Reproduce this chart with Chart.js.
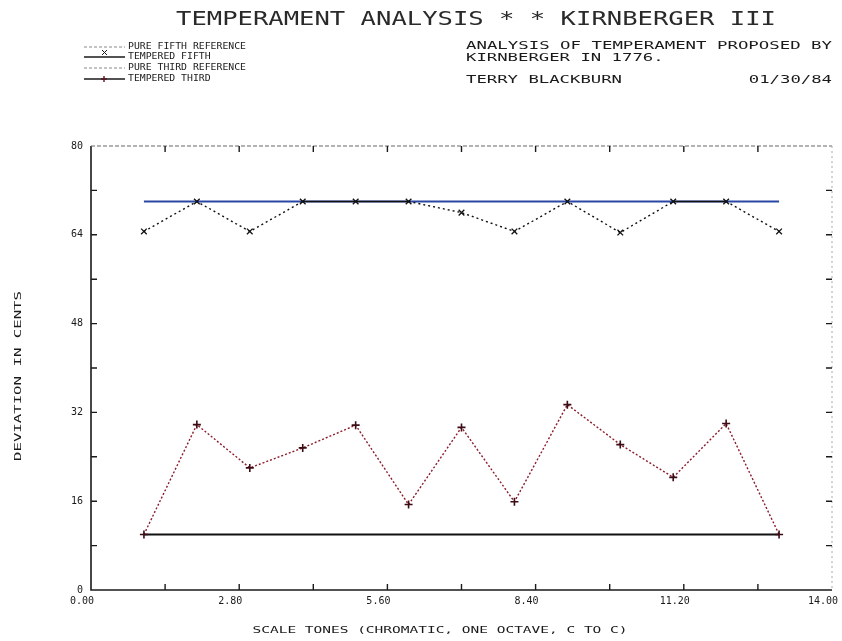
<!DOCTYPE html>
<html>
<head>
<meta charset="utf-8">
<script src="https://cdn.jsdelivr.net/npm/chart.js@4.4.1/dist/chart.umd.min.js"></script>
<style>
  html, body { margin: 0; padding: 0; background: #ffffff; }
  #wrap { position: relative; width: 842px; height: 641px; }
</style>
</head>
<body>
<div id="wrap"><canvas id="c" width="842" height="641"></canvas></div>
<script>
// ---- data ----
const tones = [1, 2, 3, 4, 5, 6, 7, 8, 9, 10, 11, 12, 13];
const pureFifth = [70, 70, 70, 70, 70, 70, 70, 70, 70, 70, 70, 70, 70];
const temperedFifth = [64.6, 70, 64.6, 70, 70, 70, 68, 64.6, 70, 64.4, 70, 70, 64.6];
const pureThird = [10, 10, 10, 10, 10, 10, 10, 10, 10, 10, 10, 10, 10];
const temperedThird = [10, 29.8, 22, 25.6, 29.7, 15.4, 29.3, 15.9, 33.4, 26.2, 20.3, 30, 10];
const xTickLabels = ['0.00', '2.80', '5.60', '8.40', '11.20', '14.00'];
const yTickLabels = ['0', '16', '32', '48', '64', '80'];
const seriesNames = ['PURE FIFTH REFERENCE', 'TEMPERED FIFTH', 'PURE THIRD REFERENCE', 'TEMPERED THIRD'];
const titleText = 'TEMPERAMENT ANALYSIS * * KIRNBERGER III';
const noteLines = ['ANALYSIS OF TEMPERAMENT PROPOSED BY', 'KIRNBERGER IN 1776.'];
const author = 'TERRY BLACKBURN';
const dateText = '01/30/84';
const xTitle = 'SCALE TONES (CHROMATIC, ONE OCTAVE, C TO C)';
const yTitle = 'DEVIATION IN CENTS';

const FONT = '"DejaVu Sans Mono", monospace';
const INK = '#1a1a1a';

function pts(ys) { return tones.map((x, i) => ({ x: x, y: ys[i] })); }

function drawText(ctx, str, x, y, size, width, align, color) {
  ctx.save();
  ctx.font = size + 'px ' + FONT;
  ctx.fillStyle = color || INK;
  ctx.textBaseline = 'middle';
  const w = ctx.measureText(str).width;
  const sx = width ? width / w : 1;
  const realW = w * sx;
  let left = x;
  if (align === 'center') left = x - realW / 2;
  else if (align === 'right') left = x - realW;
  ctx.translate(left, y);
  ctx.scale(sx, 1);
  ctx.textAlign = 'left';
  ctx.fillText(str, 0, 0);
  ctx.restore();
}

const decor = {
  id: 'decor',
  afterDraw(chart) {
    const ctx = chart.ctx;
    const xs = chart.scales.x, ys = chart.scales.y;
    const L = xs.left, R = xs.right, T = ys.top, B = ys.bottom;
    ctx.save();
    // frame
    ctx.strokeStyle = INK;
    ctx.lineWidth = 1.6;
    ctx.beginPath();
    ctx.moveTo(L, T); ctx.lineTo(L, B); ctx.lineTo(R, B);
    ctx.stroke();
    ctx.lineWidth = 1;
    ctx.strokeStyle = '#666';
    ctx.setLineDash([4, 2]);
    ctx.beginPath();
    ctx.moveTo(L, T); ctx.lineTo(R, T);
    ctx.stroke();
    ctx.strokeStyle = '#aaa';
    ctx.setLineDash([2, 3]);
    ctx.beginPath();
    ctx.moveTo(R, T); ctx.lineTo(R, B);
    ctx.stroke();
    ctx.setLineDash([]);
    // inward ticks
    ctx.strokeStyle = INK;
    ctx.lineWidth = 1.4;
    ctx.beginPath();
    for (let v = 1.4; v < 14 - 0.01; v += 1.4) {
      const px = xs.getPixelForValue(v);
      ctx.moveTo(px, B); ctx.lineTo(px, B - 6);
      ctx.moveTo(px, T); ctx.lineTo(px, T + 6);
    }
    for (let v = 8; v < 80 - 0.01; v += 8) {
      const py = ys.getPixelForValue(v);
      ctx.moveTo(L, py); ctx.lineTo(L + 6, py);
      ctx.moveTo(R, py); ctx.lineTo(R - 6, py);
    }
    ctx.stroke();

    // title
    drawText(ctx, titleText, 476, 20, 19, 600, 'center', '#2a2a2a');
    // legend
    const rows = [47, 57, 68, 79];
    for (let i = 0; i < 4; i++) {
      const y = rows[i];
      ctx.beginPath();
      if (i === 0 || i === 2) {
        ctx.strokeStyle = '#888';
        ctx.lineWidth = 1;
        ctx.setLineDash([3, 2]);
      } else {
        ctx.strokeStyle = INK;
        ctx.lineWidth = 1.3;
        ctx.setLineDash([]);
      }
      ctx.moveTo(84, y); ctx.lineTo(125, y);
      ctx.stroke();
      ctx.setLineDash([]);
      if (i === 1) {
        ctx.lineWidth = 1;
        ctx.beginPath();
        ctx.moveTo(102, y - 7); ctx.lineTo(107, y - 2);
        ctx.moveTo(107, y - 7); ctx.lineTo(102, y - 2);
        ctx.stroke();
      }
      if (i === 3) {
        ctx.strokeStyle = '#5a1420';
        ctx.lineWidth = 1.4;
        ctx.beginPath();
        ctx.moveTo(104, y - 3); ctx.lineTo(104, y + 3);
        ctx.moveTo(101, y); ctx.lineTo(107, y);
        ctx.stroke();
      }
      drawText(ctx, seriesNames[i], 128, y, 9, seriesNames[i].length * 5.9, 'left');
    }
    // notes
    drawText(ctx, noteLines[0], 466, 46, 10, 366, 'left');
    drawText(ctx, noteLines[1], 466, 58, 10, 19 * 10.4, 'left');
    drawText(ctx, author, 466, 80, 10, 15 * 10.4, 'left');
    drawText(ctx, dateText, 832, 80, 10, 8 * 10.4, 'right');

    // axis titles
    drawText(ctx, xTitle, 440, 631, 9, 375, 'center');
    ctx.save();
    ctx.translate(19, 376);
    ctx.rotate(-Math.PI / 2);
    drawText(ctx, yTitle, 0, 0, 9, 170, 'center');
    ctx.restore();
    ctx.restore();
  }
};

const chart = new Chart(document.getElementById('c'), {
  type: 'line',
  data: {
    datasets: [
      {
        label: seriesNames[1], data: pts(temperedFifth), order: 0,
        borderColor: '#111', borderWidth: 1.4, borderDash: [2, 3],
        segment: { borderDash: c => (c.p0.parsed.y === c.p1.parsed.y ? [] : [2, 3]) },
        pointStyle: 'crossRot', pointRadius: 4, pointBorderWidth: 1.3,
        pointBorderColor: '#111', pointBackgroundColor: '#111', tension: 0
      },
      {
        label: seriesNames[0], data: pts(pureFifth), order: 1,
        borderColor: '#2a47a6', borderWidth: 2, pointRadius: 0, tension: 0
      },
      {
        label: seriesNames[3], data: pts(temperedThird), order: 0,
        borderColor: '#8a1c2c', borderWidth: 1.4, borderDash: [2, 2],
        pointStyle: 'cross', pointRadius: 4, pointBorderWidth: 1.6,
        pointBorderColor: '#3a0c14', tension: 0
      },
      {
        label: seriesNames[2], data: pts(pureThird), order: 1,
        borderColor: '#111', borderWidth: 2, pointRadius: 0, tension: 0
      }
    ]
  },
  options: {
    responsive: false,
    animation: false,
    layout: { padding: { left: 0, top: 146, right: 10, bottom: 0 } },
    plugins: { legend: { display: false }, title: { display: false }, tooltip: { enabled: false } },
    scales: {
      x: {
        type: 'linear', min: 0, max: 14,
        afterFit: s => { s.height = 51; s.paddingLeft = 0; s.paddingRight = 0; },
        afterBuildTicks: s => { s.ticks = xTickLabels.map(t => ({ value: parseFloat(t) })); },
        ticks: {
          autoSkip: false, maxRotation: 0, labelOffset: -9,
          callback: (v, i) => xTickLabels[i],
          color: INK, font: { family: 'DejaVu Sans Mono', size: 10 }, padding: 5
        },
        grid: { display: false, drawTicks: false },
        border: { display: false }
      },
      y: {
        type: 'linear', min: 0, max: 80,
        afterFit: s => { s.width = 91; },
        afterBuildTicks: s => { s.ticks = yTickLabels.map(t => ({ value: parseFloat(t) })); },
        ticks: {
          autoSkip: false,
          callback: (v, i) => yTickLabels[i],
          color: INK, font: { family: 'DejaVu Sans Mono', size: 10 }, padding: 8
        },
        grid: { display: false, drawTicks: false },
        border: { display: false }
      }
    }
  },
  plugins: [decor]
});
</script>
</body>
</html>
